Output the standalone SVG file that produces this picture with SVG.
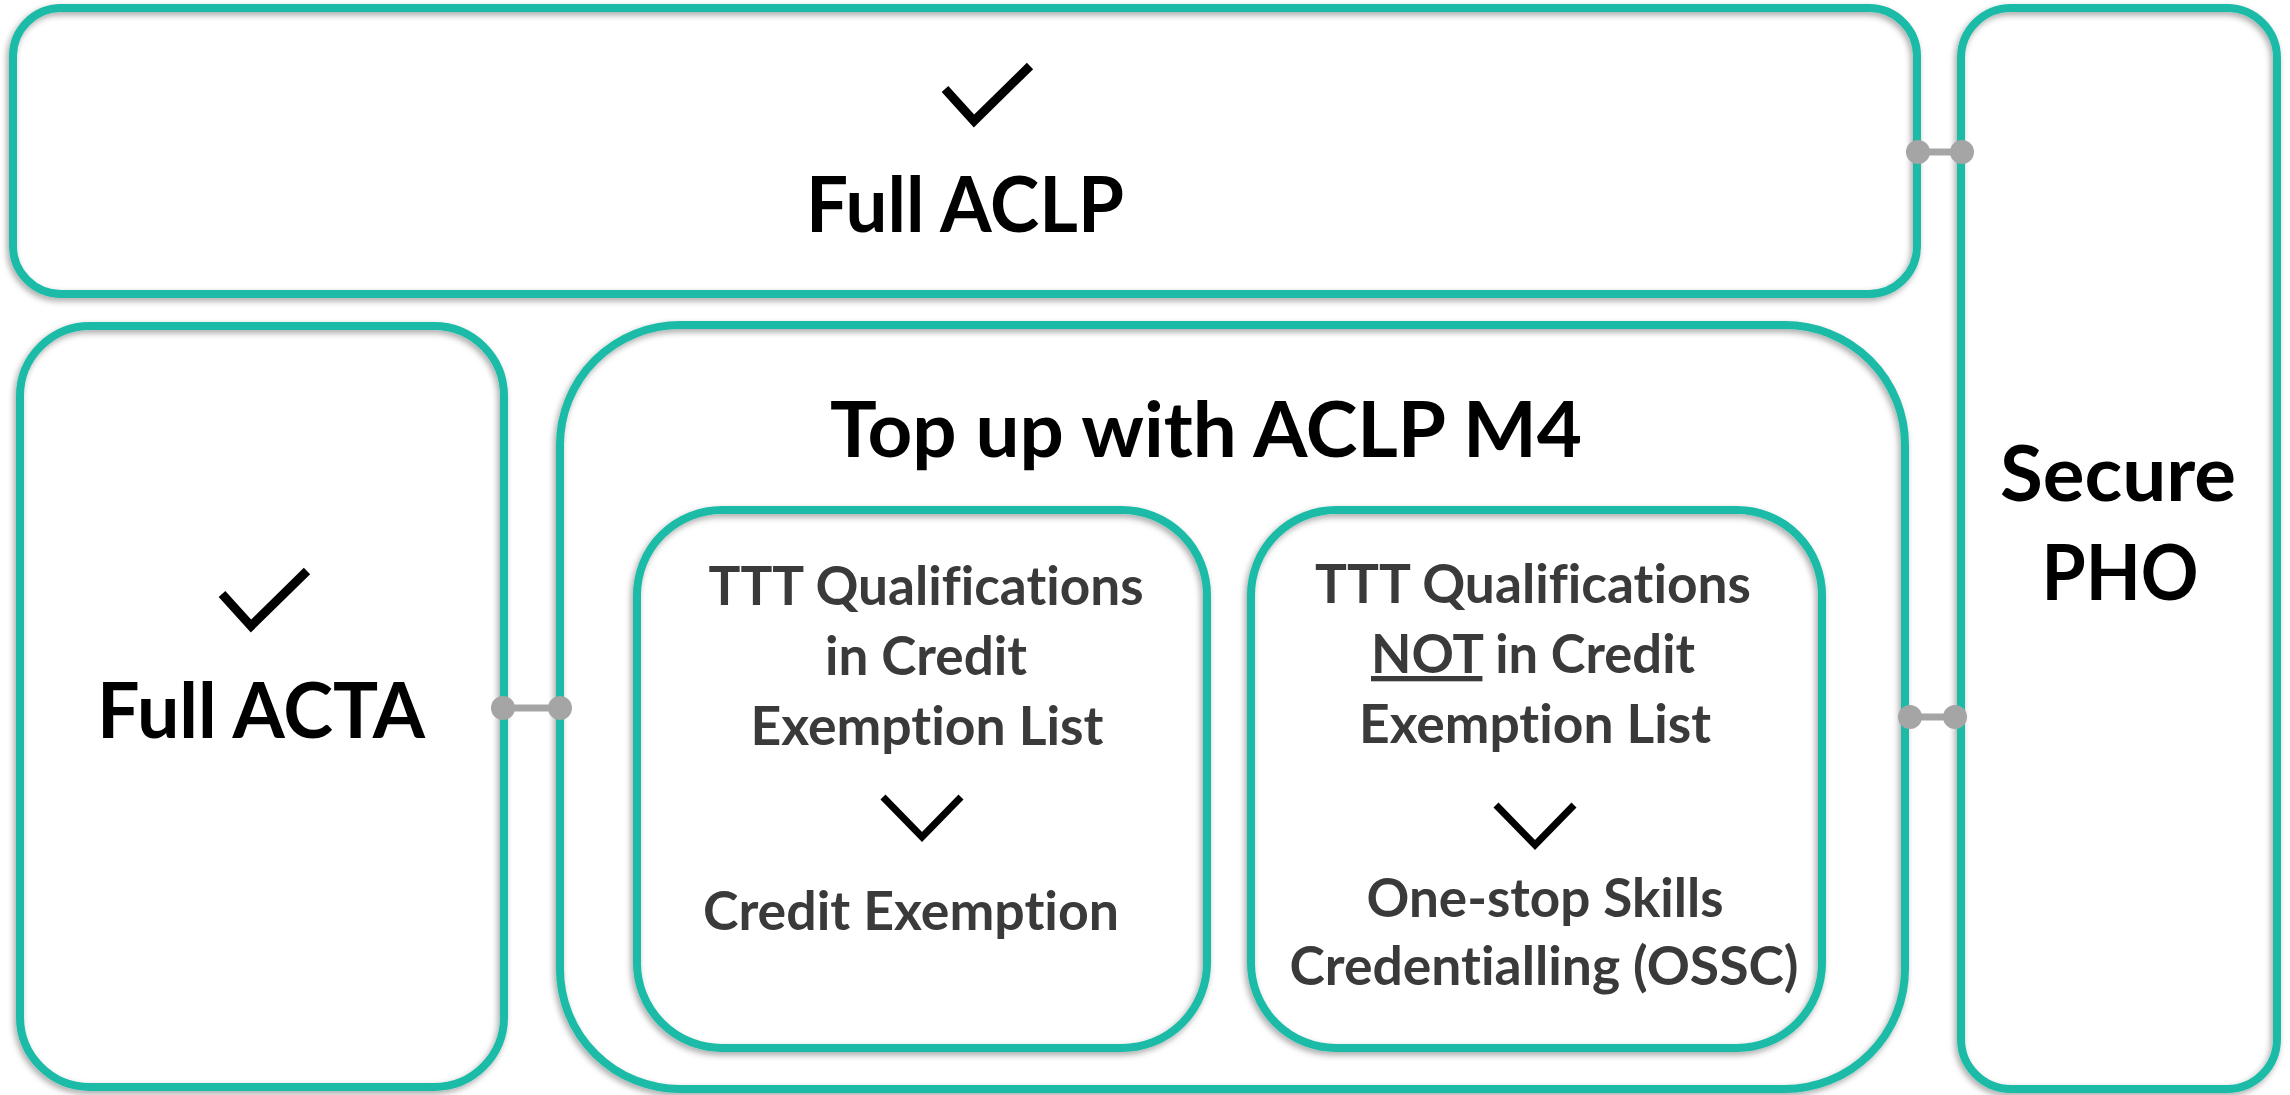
<svg xmlns="http://www.w3.org/2000/svg" width="2290" height="1095" viewBox="0 0 2290 1095">
  <defs>
    <filter id="sh" x="-5%" y="-5%" width="110%" height="110%">
      <feDropShadow dx="-2" dy="3" stdDeviation="3" flood-color="#000" flood-opacity="0.35"/>
    </filter>
    <style>
      .box { fill: none; stroke: #1cbba7; stroke-width: 8; filter: url(#sh); }
      .big { font-family: Lato, "Liberation Sans", sans-serif; font-weight: 700; font-size: 76px; fill: #000; text-anchor: middle; font-variant-ligatures: none; }
      .sm { font-family: Lato, "Liberation Sans", sans-serif; font-weight: 700; font-size: 53px; fill: #3a3a3a; text-anchor: middle; font-variant-ligatures: none; }
      .tick { fill: none; stroke: #000; stroke-width: 9; stroke-linejoin: miter; stroke-linecap: butt; }
      .chev { fill: none; stroke: #000; stroke-width: 7; stroke-linejoin: miter; stroke-linecap: butt; }
      .conn line { stroke: #a5a5a5; stroke-width: 7; }
      .conn circle { fill: #a5a5a5; }
    </style>
  </defs>
  <rect width="2290" height="1095" fill="#ffffff"/>

  <g id="full-aclp">
    <rect class="box" x="13" y="8" width="1904" height="286" rx="48"/>
    <polyline class="tick" points="945,89 974,121 1030,66"/>
    <text class="big" x="965" y="232" textLength="318" lengthAdjust="spacingAndGlyphs">Full ACLP</text>
  </g>

  <g id="secure-pho">
    <rect class="box" x="1961" y="8" width="316" height="1081" rx="50"/>
    <text class="big" x="2118" y="501" textLength="236" lengthAdjust="spacingAndGlyphs">Secure</text>
    <text class="big" x="2120" y="600" textLength="157" lengthAdjust="spacingAndGlyphs">PHO</text>
  </g>

  <g id="full-acta">
    <rect class="box" x="20" y="326" width="484" height="761" rx="70"/>
    <polyline class="tick" points="222,594 251,626 307,571"/>
    <text class="big" x="261" y="738" textLength="328" lengthAdjust="spacingAndGlyphs">Full ACTA</text>
  </g>

  <g id="top-up">
    <rect class="box" x="560" y="325" width="1345" height="764" rx="120"/>
    <text class="big" x="1206" y="457" textLength="752" lengthAdjust="spacingAndGlyphs">Top up with ACLP M4</text>
  </g>

  <g id="credit-exemption">
    <rect class="box" x="637" y="510" width="570" height="538" rx="85"/>
    <text class="sm" x="926" y="605" textLength="435" lengthAdjust="spacingAndGlyphs">TTT Qualifications</text>
    <text class="sm" x="926" y="675" textLength="202" lengthAdjust="spacingAndGlyphs">in Credit</text>
    <text class="sm" x="927" y="745" textLength="353" lengthAdjust="spacingAndGlyphs">Exemption List</text>
    <polyline class="chev" points="883,797 922,837 961,797"/>
    <text class="sm" x="911" y="930" textLength="416" lengthAdjust="spacingAndGlyphs">Credit Exemption</text>
  </g>

  <g id="ossc">
    <rect class="box" x="1251" y="510" width="571" height="538" rx="85"/>
    <text class="sm" x="1533" y="603" textLength="436" lengthAdjust="spacingAndGlyphs">TTT Qualifications</text>
    <text class="sm" x="1533" y="673" textLength="324" lengthAdjust="spacingAndGlyphs"><tspan text-decoration="underline">NOT</tspan> in Credit</text>
    <text class="sm" x="1535" y="743" textLength="352" lengthAdjust="spacingAndGlyphs">Exemption List</text>
    <polyline class="chev" points="1496,805 1535,845 1574,805"/>
    <text class="sm" x="1545" y="917" textLength="357" lengthAdjust="spacingAndGlyphs">One-stop Skills</text>
    <text class="sm" x="1544" y="985" textLength="509" lengthAdjust="spacingAndGlyphs">Credentialling (OSSC)</text>
  </g>

  <g id="connectors" class="conn">
    <g id="c-aclp-pho">
      <line x1="1918" y1="152" x2="1962" y2="152"/>
      <circle cx="1918" cy="152" r="12"/>
      <circle cx="1962" cy="152" r="12"/>
    </g>
    <g id="c-acta-topup">
      <line x1="503" y1="708" x2="560" y2="708"/>
      <circle cx="503" cy="708" r="12"/>
      <circle cx="560" cy="708" r="12"/>
    </g>
    <g id="c-topup-pho">
      <line x1="1910" y1="717" x2="1955" y2="717"/>
      <circle cx="1910" cy="717" r="12"/>
      <circle cx="1955" cy="717" r="12"/>
    </g>
  </g>
</svg>
